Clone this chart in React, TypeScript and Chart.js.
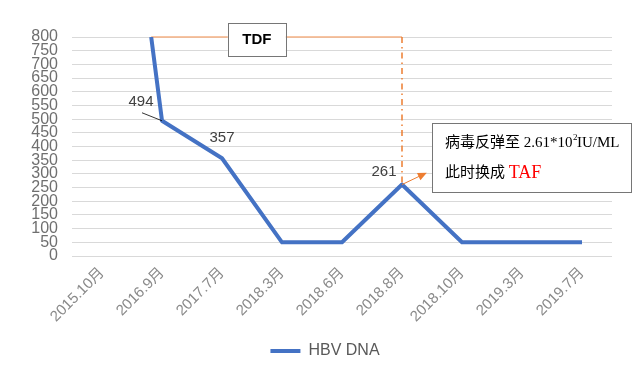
import React, { useEffect, useRef } from 'react';
import { Chart, registerables } from 'chart.js';

Chart.register(...registerables);

// ---- data ----
const categories = ['2015.10月', '2016.9月', '2017.7月', '2018.3月', '2018.6月', '2018.8月', '2018.10月', '2019.3月', '2019.7月'];
const seriesName = 'HBV DNA';
// position of each measurement along the category axis (first point sits just before 2016.9月)
const pointPositions = [0.82, 1, 2, 3, 4, 5, 6, 7, 8];
const hbvValues = [800, 494, 357, 50, 50, 261, 50, 50, 50];
const labeledIndices = [1, 2, 5];
const yMin = 0;
const yMax = 800;
const yStep = 50;
const switchIndex = 5; // 2018.8月
const tdfText = 'TDF';
const tafLine1a = '病毒反弹至 2.61*10';
const tafLine1sup = '2';
const tafLine1b = 'IU/ML';
const tafLine2a = '此时换成 ';
const tafLine2b = 'TAF';

const SANS = '"Liberation Sans", "Noto Sans CJK SC", sans-serif';
const SERIF = '"Liberation Serif", "Noto Sans CJK SC", serif';

const annotationPlugin = {
  id: 'annotations',
  beforeDatasetsDraw(chart: any) {
    const { ctx, scales } = chart;
    const x = scales.x;
    const y = scales.y;
    const x0 = x.getPixelForValue(pointPositions[0]);
    const x1 = x.getPixelForValue(switchIndex);
    const yTop = y.getPixelForValue(hbvValues[0]);
    const ySw = y.getPixelForValue(hbvValues[switchIndex]);
    ctx.save();
    ctx.strokeStyle = '#f4b183';
    ctx.lineWidth = 1.5;
    ctx.beginPath();
    ctx.moveTo(x0, yTop);
    ctx.lineTo(x1, yTop);
    ctx.stroke();
    ctx.strokeStyle = '#ed7d31';
    ctx.setLineDash([6, 4, 1.5, 4]);
    ctx.beginPath();
    ctx.moveTo(x1, yTop);
    ctx.lineTo(x1, ySw);
    ctx.stroke();
    ctx.restore();
  },
  afterDatasetsDraw(chart: any) {
    const { ctx, scales } = chart;
    const x = scales.x;
    const y = scales.y;
    const meta = chart.getDatasetMeta(0);
    const x1 = x.getPixelForValue(switchIndex);
    const ySw = y.getPixelForValue(hbvValues[switchIndex]);
    const yTop = y.getPixelForValue(hbvValues[0]);
    ctx.save();

    // arrow
    const ax = x1 + 23;
    const ay = ySw - 11;
    ctx.strokeStyle = '#ed7d31';
    ctx.fillStyle = '#ed7d31';
    ctx.lineWidth = 1;
    ctx.beginPath();
    ctx.moveTo(x1, ySw);
    ctx.lineTo(ax, ay);
    ctx.stroke();
    const ang = Math.atan2(ay - ySw, ax - x1);
    ctx.beginPath();
    ctx.moveTo(ax + 2 * Math.cos(ang), ay + 2 * Math.sin(ang));
    ctx.lineTo(ax - 7 * Math.cos(ang) + 4 * Math.sin(ang), ay - 7 * Math.sin(ang) - 4 * Math.cos(ang));
    ctx.lineTo(ax - 7 * Math.cos(ang) - 4 * Math.sin(ang), ay - 7 * Math.sin(ang) + 4 * Math.cos(ang));
    ctx.closePath();
    ctx.fill();

    // TDF box
    const tcx = x.getPixelForValue(2.58);
    const tcy = yTop + 2;
    const tw = 58;
    const th = 33;
    ctx.fillStyle = '#ffffff';
    ctx.fillRect(tcx - tw / 2, tcy - th / 2, tw, th);
    ctx.strokeStyle = '#767676';
    ctx.lineWidth = 1;
    ctx.strokeRect(Math.round(tcx - tw / 2) + 0.5, Math.round(tcy - th / 2) + 0.5, tw, th);
    ctx.fillStyle = '#000000';
    ctx.font = 'bold 15px ' + SANS;
    ctx.textAlign = 'center';
    ctx.textBaseline = 'middle';
    ctx.fillText(tdfText, tcx, tcy + 1);

    // TAF box
    const bl = x1 + 30;
    const bt = y.getPixelForValue(485);
    const bw = 199;
    const bh = 69;
    ctx.fillStyle = '#ffffff';
    ctx.fillRect(bl, bt, bw, bh);
    ctx.strokeStyle = '#767676';
    ctx.strokeRect(Math.round(bl) + 0.5, Math.round(bt) + 0.5, bw, bh);
    ctx.textAlign = 'left';
    ctx.textBaseline = 'middle';
    ctx.fillStyle = '#000000';
    let tx = bl + 13;
    const l1 = bt + 20;
    ctx.font = '15px ' + SERIF;
    ctx.fillText(tafLine1a, tx, l1);
    tx += ctx.measureText(tafLine1a).width;
    ctx.font = '9px ' + SERIF;
    ctx.fillText(tafLine1sup, tx + 0.5, l1 - 6);
    tx += ctx.measureText(tafLine1sup).width;
    ctx.font = '15px ' + SERIF;
    ctx.fillText(tafLine1b, tx, l1);
    const l2 = bt + 50;
    tx = bl + 13;
    ctx.font = '15px ' + SERIF;
    ctx.fillText(tafLine2a, tx, l2);
    tx += ctx.measureText(tafLine2a).width;
    ctx.fillStyle = '#ff0000';
    ctx.font = '18px ' + SERIF;
    ctx.fillText(tafLine2b, tx, l2);

    // data labels
    ctx.font = '15px ' + SANS;
    ctx.fillStyle = '#404040';
    ctx.textAlign = 'center';
    ctx.textBaseline = 'middle';
    labeledIndices.forEach((i) => {
      const pt = meta.data[i];
      if (!pt) return;
      let dx = 0;
      let dy = -20;
      if (i === 1) { dx = -21; dy = -19; }
      if (i === 5) { dx = -18; dy = -13; }
      ctx.fillText(String(hbvValues[i]), pt.x + dx, pt.y + dy);
      if (i === 1) {
        ctx.strokeStyle = '#000000';
        ctx.lineWidth = 0.8;
        ctx.beginPath();
        ctx.moveTo(pt.x - 20, pt.y - 8);
        ctx.lineTo(pt.x, pt.y);
        ctx.stroke();
      }
    });
    ctx.restore();
  },
};

export default function App() {
  const ref = useRef<HTMLCanvasElement>(null);
  useEffect(() => {
    if (!ref.current) return;
    const chart = new Chart(ref.current, {
      type: 'line',
      data: {
        datasets: [
          {
            label: seriesName,
            data: pointPositions.map((p, i) => ({ x: p, y: hbvValues[i] })),
            borderColor: '#4472c4',
            backgroundColor: '#4472c4',
            borderWidth: 4,
            pointRadius: 0,
            pointHoverRadius: 0,
            tension: 0,
            borderJoinStyle: 'round',
          },
        ],
      },
      options: {
        responsive: false,
        animation: false,
        layout: { padding: { top: 37, right: 0, bottom: 14, left: 10 } },
        scales: {
          x: {
            type: 'linear',
            min: -0.5,
            max: categories.length - 0.5,
            afterBuildTicks: (axis: any) => {
              axis.ticks = categories.map((_, i) => ({ value: i }));
            },
            afterFit: (axis: any) => {
              axis.height = 77;
            },
            grid: { display: false, drawTicks: false },
            border: { display: false },
            ticks: {
              autoSkip: false,
              minRotation: 45,
              maxRotation: 45,
              padding: 8,
              color: '#8a8a8a',
              font: { family: SANS, size: 15 },
              callback: (v: any) => categories[Math.round(Number(v))] ?? '',
            },
          },
          y: {
            min: yMin,
            max: yMax,
            afterFit: (axis: any) => {
              axis.width = 62;
            },
            grid: { color: '#d9d9d9', lineWidth: 1, drawTicks: false },
            border: { display: false },
            ticks: {
              stepSize: yStep,
              autoSkip: false,
              padding: 14,
              color: '#6f6f6f',
              font: { family: SANS, size: 16 },
            },
          },
          yRight: {
            position: 'right',
            min: yMin,
            max: yMax,
            afterFit: (axis: any) => {
              axis.width = 28;
            },
            grid: { display: false, drawTicks: false },
            border: { display: false },
            ticks: { display: false },
          },
        },
        plugins: {
          legend: {
            position: 'bottom',
            labels: {
              usePointStyle: true,
              pointStyle: 'line',
              pointStyleWidth: 30,
              padding: 10,
              color: '#595959',
              font: { family: SANS, size: 16 },
            },
          },
          tooltip: { enabled: false },
        },
      },
      plugins: [annotationPlugin],
    } as any);
    return () => chart.destroy();
  }, []);
  return (
    <div style={{ position: 'absolute', left: 0, top: 0, width: 640, height: 383, background: '#fff' }}>
      <canvas ref={ref} width={640} height={383} />
    </div>
  );
}
